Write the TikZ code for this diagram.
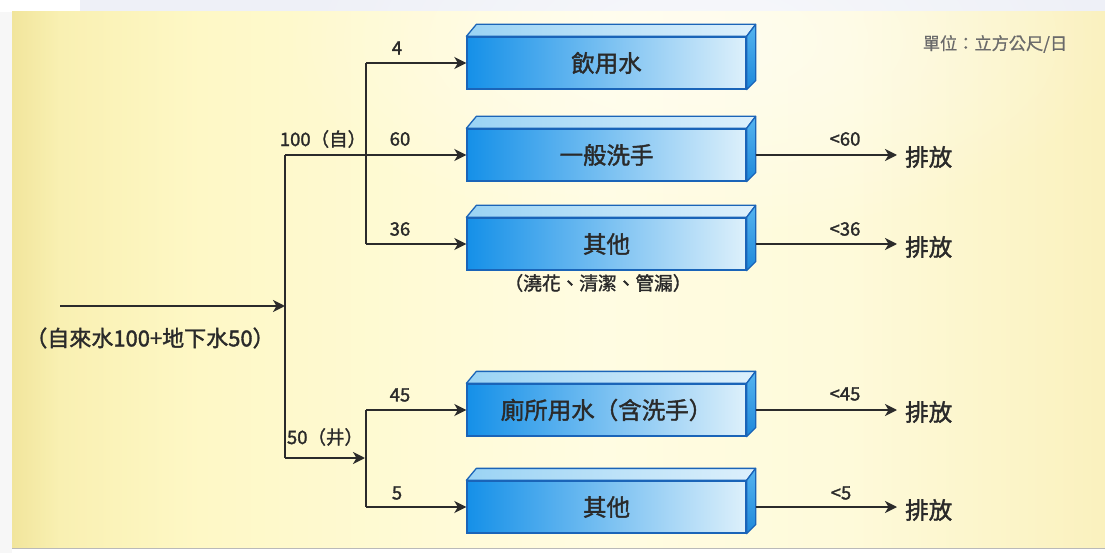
\documentclass[tikz,border=0pt]{standalone}
\usepackage{fontspec}
\newfontfamily\cjk[FakeBold=1.6]{Noto Sans CJK TC}
\newfontfamily\cjkl[FakeBold=0.6]{Noto Sans CJK TC}
\usetikzlibrary{arrows.meta,calc,fadings}
\definecolor{lineC}{HTML}{2B2B2B}
\definecolor{txtC}{HTML}{2A2A2A}
\definecolor{unitC}{HTML}{6A6A6A}
\definecolor{boxline}{HTML}{1A64B8}
\definecolor{faceL}{HTML}{1590E8}
\definecolor{faceR}{HTML}{DDF0FB}
\definecolor{topL}{HTML}{9AD3F4}
\definecolor{topR}{HTML}{DDF0FC}
\definecolor{sideT}{HTML}{55B4EF}
\definecolor{sideB}{HTML}{1E88DA}
\definecolor{ylA}{HTML}{F1E59C}
\definecolor{ylB}{HTML}{F9F0B2}
\definecolor{ylC}{HTML}{FEF8C6}
\definecolor{ylD}{HTML}{FFFCE2}
\definecolor{ylE}{HTML}{FEFADA}
\definecolor{ylF}{HTML}{FAF1BE}
\definecolor{stripC}{HTML}{EEF0F7}
\pgfdeclarehorizontalshading{bgshade}{100bp}{color(0bp)=(ylA); color(25bp)=(ylA); color(27.2bp)=(ylB); color(33.6bp)=(ylC); color(51.9bp)=(ylD); color(63.3bp)=(ylE); color(75bp)=(ylF); color(100bp)=(ylF)}
\tikzfading[name=glow, inner color=transparent!0, outer color=transparent!100]
\tikzset{
  box/.style={draw=boxline, line width=1.3pt, left color=faceL, right color=faceR,
    minimum width=279pt, minimum height=52pt, inner sep=0pt, text=txtC,
    font=\cjk\fontsize{23.5}{25}\selectfont},
  wire/.style={draw=lineC, line width=2.4pt},
  arr/.style={wire, -{Stealth[length=12pt,width=12pt,inset=3.5pt]}},
  lab/.style={text=txtC, inner sep=0pt, font=\cjk\fontsize{18.5}{20}\selectfont},
  outlab/.style={text=txtC, inner sep=0pt, anchor=west, font=\cjk\fontsize{23.5}{25}\selectfont},
}
\newcommand\bevel[1]{%
  \shadedraw[left color=topL, right color=topR, draw=boxline, line width=1.3pt, line join=round]
    (#1.north west) -- ++(10,-12) -- ($(#1.north east)+(9,-12)$) -- (#1.north east) -- cycle;
  \shadedraw[top color=sideT, bottom color=sideB, draw=boxline, line width=1.3pt, line join=round]
    (#1.north east) -- ++(9,-12) -- ($(#1.south east)+(9,-9)$) -- (#1.south east) -- cycle;
}
\begin{document}
\begin{tikzpicture}[x=1pt,y=-1pt]
\useasboundingbox (0,0) rectangle (1105,553);
% background
\fill[white] (0,0) rectangle (1105,553);
\fill[stripC] (80,0) rectangle (1105,12);
\fill[white!94!gray] (0,12) rectangle (12,553);
\shade[shading=bgshade] (12,12) rectangle (1105,548);
\fill[white, opacity=0.55, path fading=glow] (700,40) ellipse (420 and 200);
\draw[gray!55, line width=1pt] (12,548.5) -- (1105,548.5);

% boxes
\node[box] (b1) at (606.5,63) {飲用水};
\bevel{b1}
\node[box] (b2) at (606.5,155) {一般洗手};
\bevel{b2}
\node[box] (b3) at (606.5,244) {其他};
\bevel{b3}
\node[box] (b4) at (606.5,410) {廁所用水（含洗手）};
\bevel{b4}
\node[box] (b5) at (606.5,507) {其他};
\bevel{b5}
\node[lab, font=\cjk\fontsize{18.7}{20}\selectfont] (b3note) at (598,283) {（澆花、清潔、管漏）};

% unit
\node[text=unitC, inner sep=0pt, font=\cjkl\fontsize{17.2}{19}\selectfont] (unit) at (995,44) {單位：立方公尺/日};

% input
\coordinate (src) at (60,306);
\coordinate (tin) at (285,306);
\node[text=txtC, inner sep=0pt, font=\cjk\fontsize{22}{24}\selectfont] (srcl) at (150,338) {（自來水100+地下水50）};
\draw[arr] (src) -- (tin);

% trunk
\coordinate (t1) at (285,155);
\coordinate (t2) at (285,458);
\draw[wire] (t1) -- (t2);
\draw[arr] (t1) -- (b2.west);

% upper split
\coordinate (v1) at (366,63);
\coordinate (v2) at (366,244);
\draw[wire] (v1) -- (v2);
\draw[arr] (v1) -- (b1.west);
\draw[arr] (v2) -- (b3.west);

% lower split
\coordinate (j2) at (366,458);
\coordinate (v3) at (366,410);
\coordinate (v4) at (366,507);
\draw[arr] (t2) -- ([xshift=-1pt]j2);
\draw[wire] (v3) -- (v4);
\draw[arr] (v3) -- (b4.west);
\draw[arr] (v4) -- (b5.west);

% branch labels
\node[lab] (l4) at (397,48) {4};
\node[lab] (l60) at (400,139) {60};
\node[lab] (l36) at (400,229) {36};
\node[lab] (l100) at (323,139) {100（自）};
\node[lab] (l45) at (400,395) {45};
\node[lab] (l5) at (397,493) {5};
\node[lab] (l50) at (325,437) {50（井）};

% outputs
\node[outlab] (p2) at (905,157) {排放};
\node[outlab] (p3) at (905,247) {排放};
\node[outlab] (p4) at (905,412) {排放};
\node[outlab] (p5) at (905,510) {排放};
\draw[arr] ([xshift=9pt]b2.east) -- ([xshift=-8pt]b2.east -| p2.west);
\draw[arr] ([xshift=9pt]b3.east) -- ([xshift=-8pt]b3.east -| p3.west);
\draw[arr] ([xshift=9pt]b4.east) -- ([xshift=-8pt]b4.east -| p4.west);
\draw[arr] ([xshift=9pt]b5.east) -- ([xshift=-8pt]b5.east -| p5.west);
\node[lab] (o2) at (845,139) {<60};
\node[lab] (o3) at (845,229) {<36};
\node[lab] (o4) at (845,394) {<45};
\node[lab] (o5) at (841,493) {<5};
\end{tikzpicture}
\end{document}
